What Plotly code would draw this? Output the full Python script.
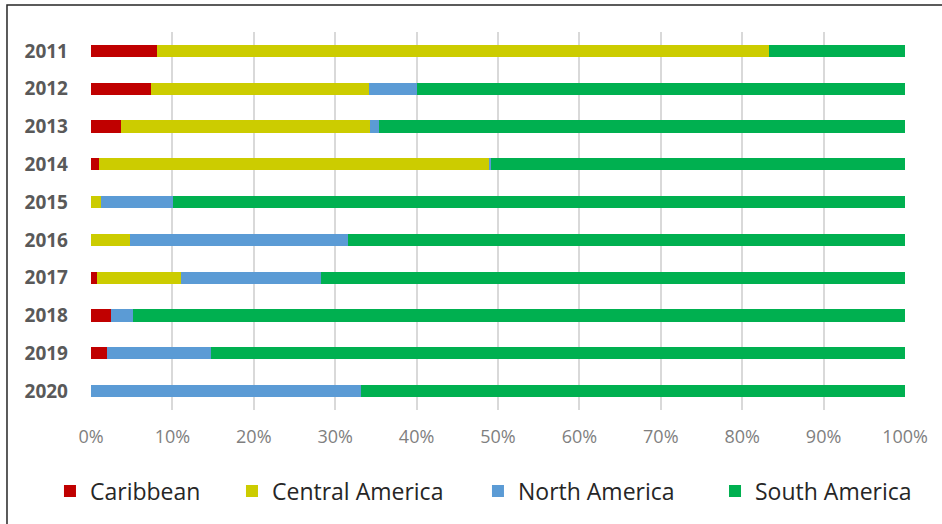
import plotly.graph_objects as go

years = ["2011", "2012", "2013", "2014", "2015", "2016", "2017", "2018", "2019", "2020"]
caribbean = [8.1, 7.4, 3.7, 1.0, 0.0, 0.0, 0.7, 2.4, 2.0, 0.0]
central_america = [75.2, 26.8, 30.6, 48.0, 1.2, 4.8, 10.4, 0.0, 0.0, 0.0]
north_america = [0.0, 5.8, 1.1, 0.2, 8.9, 26.8, 17.1, 2.7, 12.8, 33.2]
south_america = [16.7, 60.0, 64.6, 50.8, 89.9, 68.4, 71.8, 94.9, 85.2, 66.8]
tick_vals = [0, 10, 20, 30, 40, 50, 60, 70, 80, 90, 100]
tick_text = ["0%", "10%", "20%", "30%", "40%", "50%", "60%", "70%", "80%", "90%", "100%"]

series = [
    ("Caribbean", caribbean, "#C00000", "legend", -0.0504),
    ("Central America", central_america, "#CCCC00", "legend2", 0.1732),
    ("North America", north_america, "#5B9BD5", "legend3", 0.4754),
    ("South America", south_america, "#00B050", "legend4", 0.7666),
]

fig = go.Figure()
legend_layouts = {}
for name, vals, color, leg, lx in series:
    fig.add_trace(go.Bar(
        y=years, x=vals, name=name, orientation="h",
        marker=dict(color=color, line=dict(width=0)),
        legend=leg, showlegend=True,
    ))
    legend_layouts[leg] = dict(
        orientation="h", x=lx, xanchor="left", y=-0.2143, yanchor="middle",
        font=dict(size=23, color="#262626", family="Open Sans, sans-serif"),
        itemwidth=30, bgcolor="rgba(0,0,0,0)", visible=True,
    )

fig.update_layout(
    showlegend=True,
    barmode="stack",
    bargap=0.68,
    width=942, height=524,
    margin=dict(l=91, r=37, t=32, b=114),
    paper_bgcolor="white",
    plot_bgcolor="white",
    font=dict(family="Open Sans, sans-serif"),
    xaxis=dict(
        range=[0, 100],
        tickvals=tick_vals, ticktext=tick_text,
        showgrid=True, gridcolor="#D9D9D9", gridwidth=1.5,
        zeroline=False, showline=False,
        tickfont=dict(size=18, color="#7F7F7F", family="Open Sans, sans-serif"),
        ticks="", ticklabelstandoff=14,
    ),
    yaxis=dict(
        autorange="reversed",
        showgrid=False, zeroline=False, showline=False,
        tickfont=dict(size=19, color="#595959", family="Open Sans, sans-serif", weight="bold"),
        ticks="", ticklabelstandoff=22,
    ),
    shapes=[
        dict(type="rect", xref="paper", yref="paper",
             x0=-0.1032, x1=1.06, y0=-0.35, y1=1.0714,
             line=dict(color="#262626", width=1.5), fillcolor="rgba(0,0,0,0)", layer="above"),
    ],
    **legend_layouts,
)

fig.write_html(
    "out.html",
    config={"displayModeBar": False},
    post_script="document.body.style.margin='0';document.body.style.overflow='hidden';",
)
